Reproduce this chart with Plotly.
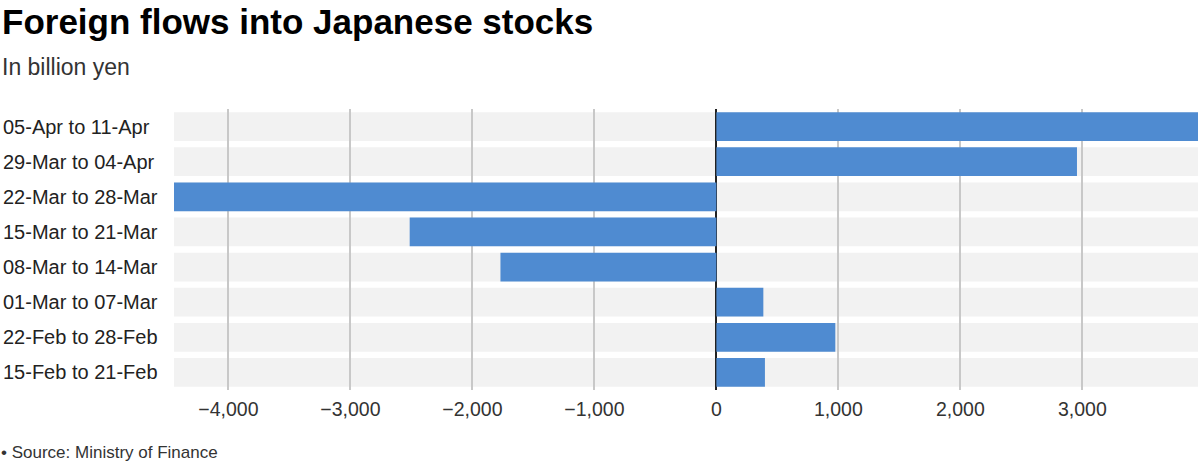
import plotly.graph_objects as go

weeks = [
    "05-Apr to 11-Apr",
    "29-Mar to 04-Apr",
    "22-Mar to 28-Mar",
    "15-Mar to 21-Mar",
    "08-Mar to 14-Mar",
    "01-Mar to 07-Mar",
    "22-Feb to 28-Feb",
    "15-Feb to 21-Feb",
]
flows = [3948, 2956, -4446, -2514, -1770, 385, 975, 398]
tick_vals = [-4000, -3000, -2000, -1000, 0, 1000, 2000, 3000]

FONT = "Liberation Sans, Arial, Helvetica, sans-serif"
BAR = "#4f8bd1"
HALF = 0.409

fig = go.Figure()
fig.add_trace(go.Bar(
    x=flows, y=weeks, orientation="h",
    marker=dict(color=BAR, line=dict(width=0)),
    hoverinfo="x+y",
))

shapes = []
for i, _ in enumerate(weeks):
    shapes.append(dict(type="rect", xref="paper", yref="y",
                       x0=0, x1=1, y0=i - HALF, y1=i + HALF,
                       fillcolor="#f2f2f2", line=dict(width=0), layer="below"))

annotations = []
for w in weeks:
    annotations.append(dict(xref="paper", yref="y", x=0, y=w, xshift=-173,
                            xanchor="left", yanchor="middle", showarrow=False,
                            text=w, font=dict(family=FONT, size=20, color="#222")))

annotations += [
    dict(xref="paper", yref="paper", x=0, xshift=-174, y=1, yshift=109,
         xanchor="left", yanchor="top", showarrow=False,
         text="Foreign flows into Japanese stocks",
         font=dict(family=FONT, size=35, color="#000", weight="bold")),
    dict(xref="paper", yref="paper", x=0, xshift=-174, y=1, yshift=57,
         xanchor="left", yanchor="top", showarrow=False,
         text="In billion yen",
         font=dict(family=FONT, size=23, color="#333")),
    dict(xref="paper", yref="paper", x=0, xshift=-175, y=0, yshift=-51,
         xanchor="left", yanchor="top", showarrow=False,
         text="• Source: Ministry of Finance",
         font=dict(family=FONT, size=17, color="#333")),
]

fig.update_layout(
    width=1200, height=466,
    margin=dict(l=174, r=2, t=109, b=76),
    paper_bgcolor="white", plot_bgcolor="white",
    bargap=1 - 2 * HALF,
    showlegend=False,
    shapes=shapes,
    annotations=annotations,
    font=dict(family=FONT, size=19, color="#333"),
)
fig.update_xaxes(
    range=[min(flows), max(flows)],
    tickvals=tick_vals, tickformat=",",
    showgrid=True, gridcolor="#c8c8c8", gridwidth=1.5,
    zeroline=True, zerolinecolor="#222", zerolinewidth=1.5,
    showline=False, ticks="", ticklabelstandoff=5,
    tickfont=dict(family=FONT, size=19.5, color="#333"),
    fixedrange=True,
)
fig.update_yaxes(
    autorange="reversed", showticklabels=False, showgrid=False,
    zeroline=False, showline=False, ticks="", fixedrange=True,
)

fig.write_html("out.html", config={"displayModeBar": False},
               post_script="document.body.style.margin='0';")
